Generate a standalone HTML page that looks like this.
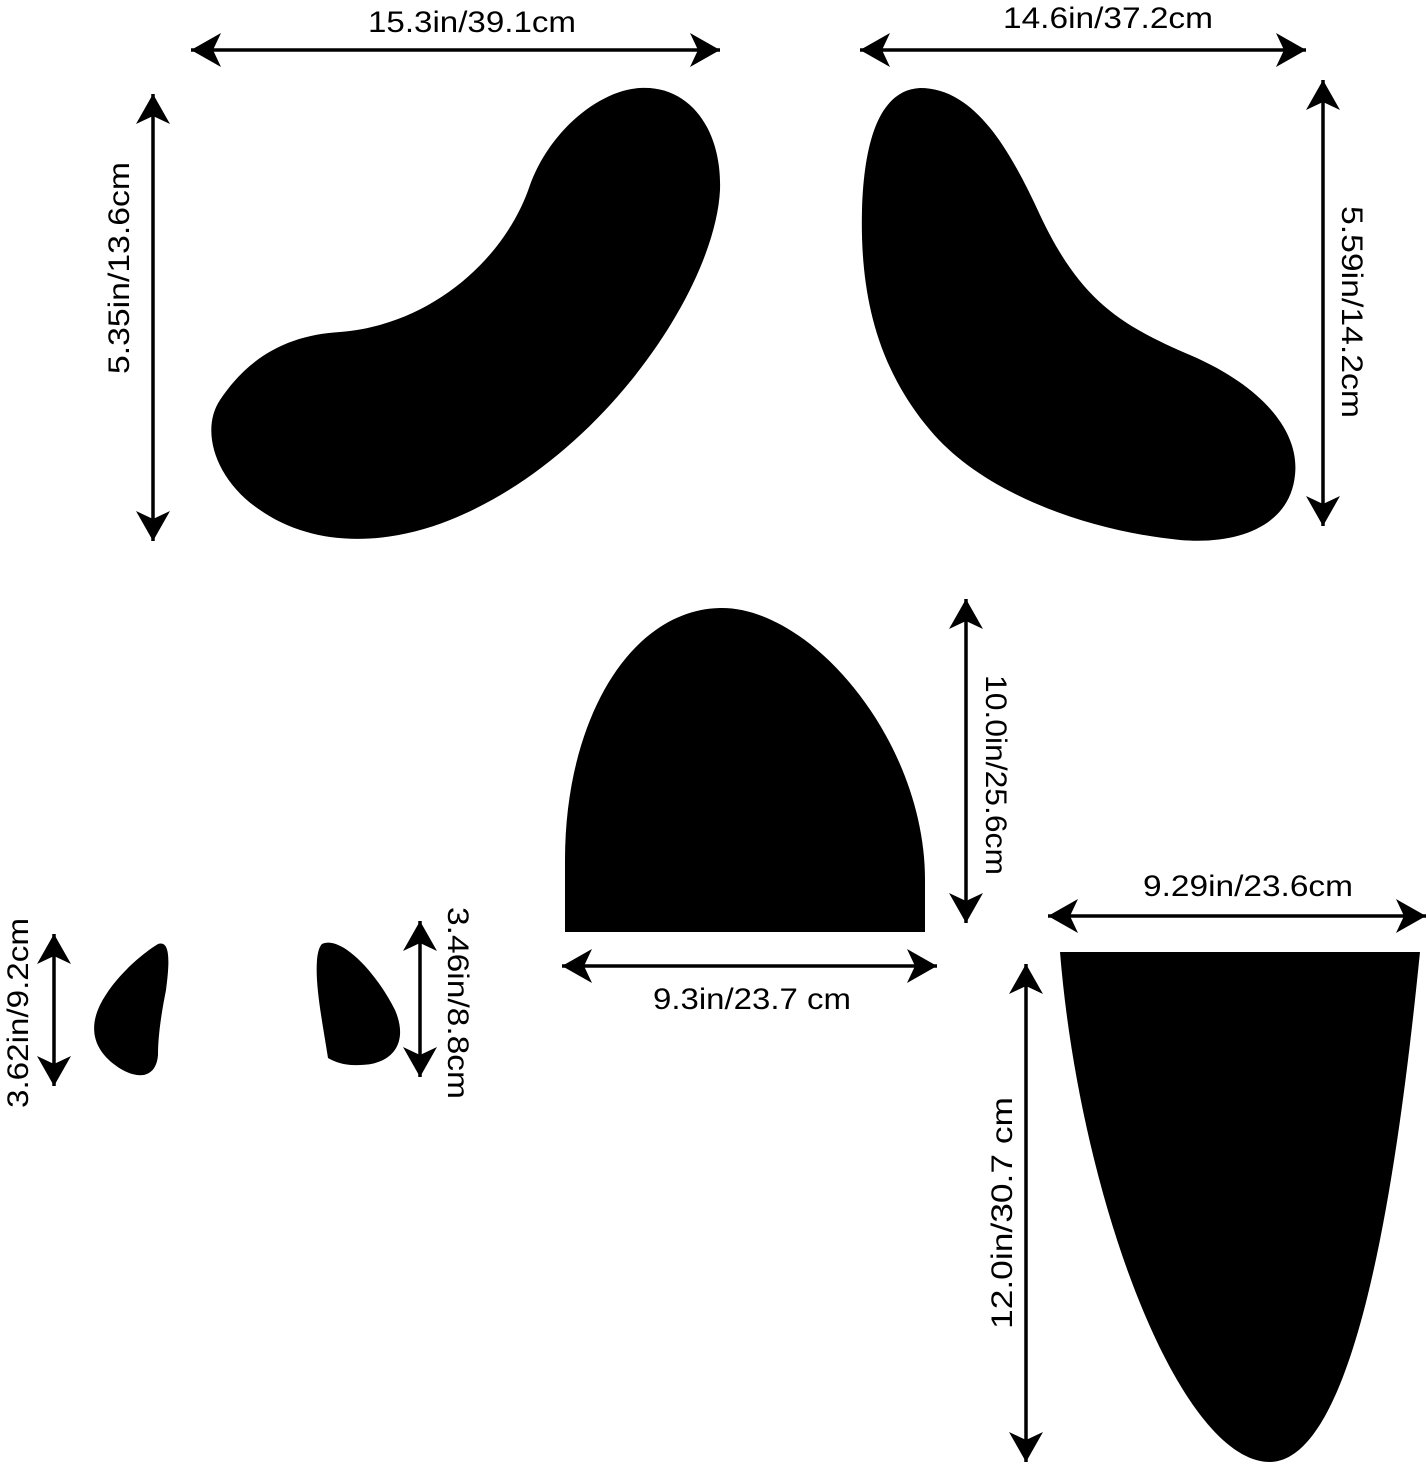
<!DOCTYPE html>
<html><head><meta charset="utf-8"><style>
html,body{margin:0;padding:0;background:#fff;}
svg{display:block;}
text{font-family:"Liberation Sans",sans-serif;font-size:30px;fill:#000;}
</style></head><body>
<svg width="1428" height="1467" viewBox="0 0 1428 1467" xmlns="http://www.w3.org/2000/svg">
<defs>
<marker id="a" viewBox="0 0 32 34" refX="31" refY="17" markerWidth="32" markerHeight="34" markerUnits="userSpaceOnUse" orient="auto-start-reverse">
<path d="M31,17 L1,0 L9,17 L1,34 Z" fill="#000"/>
</marker>
</defs>
<g fill="#000">
<path d="M640 88 C690 85 722 130 720 190 C715 290 600 460 450 520 C380 548 310 545 260 510 C215 480 200 430 220 400 C250 355 290 335 340 332 C430 325 505 260 530 185 C550 130 600 90 640 88 Z"/>
<path d="M920 88 C975 88 1010 150 1040 215 C1080 300 1120 325 1190 355 C1260 385 1300 430 1295 475 C1290 525 1240 545 1180 540 C1080 530 980 490 930 430 C875 365 860 290 862 210 C864 140 880 90 920 88 Z"/>
<path d="M565 932 L565 860 C565 720 630 610 720 608 C810 606 925 740 925 880 L925 932 Z"/>
<path d="M1060 952 L1420 952 C1400 1150 1360 1460 1270 1462 C1180 1462 1080 1200 1060 952 Z"/>
<path d="M158 944 C170 940 170 960 166 990 C160 1020 158 1040 158 1055 C156 1080 135 1080 115 1065 C95 1050 88 1030 100 1005 C115 975 145 952 158 944 Z"/>
<path d="M322 944 C340 935 375 970 395 1010 C410 1045 390 1065 360 1065 C345 1066 335 1062 328 1058 C322 1020 315 985 317 960 C318 950 320 946 322 944 Z"/>
</g>
<g stroke="#000" stroke-width="3.5" marker-start="url(#a)" marker-end="url(#a)">
<line x1="191" y1="50" x2="720" y2="50"/>
<line x1="860" y1="50" x2="1306" y2="50"/>
<line x1="153" y1="94" x2="153" y2="541"/>
<line x1="1323" y1="80" x2="1323" y2="526"/>
<line x1="966" y1="599" x2="966" y2="923"/>
<line x1="562" y1="966" x2="937" y2="966"/>
<line x1="1048" y1="916" x2="1426" y2="916"/>
<line x1="1026" y1="964" x2="1026" y2="1462"/>
<line x1="54" y1="934" x2="54" y2="1086"/>
<line x1="420" y1="921" x2="420" y2="1077"/>
</g>
<g text-anchor="middle">
<text x="472" y="32" textLength="208" lengthAdjust="spacingAndGlyphs">15.3in/39.1cm</text>
<text x="1108" y="28" textLength="210" lengthAdjust="spacingAndGlyphs">14.6in/37.2cm</text>
<text x="752" y="1009" textLength="198" lengthAdjust="spacingAndGlyphs">9.3in/23.7 cm</text>
<text x="1248" y="896" textLength="210" lengthAdjust="spacingAndGlyphs">9.29in/23.6cm</text>
<text transform="translate(129,268) rotate(-90)" textLength="212" lengthAdjust="spacingAndGlyphs">5.35in/13.6cm</text>
<text transform="translate(1342,312) rotate(90)" textLength="212" lengthAdjust="spacingAndGlyphs">5.59in/14.2cm</text>
<text transform="translate(986,775) rotate(90)" textLength="200" lengthAdjust="spacingAndGlyphs">10.0in/25.6cm</text>
<text transform="translate(1012,1213) rotate(-90)" textLength="232" lengthAdjust="spacingAndGlyphs">12.0in/30.7 cm</text>
<text transform="translate(28,1013) rotate(-90)" textLength="190" lengthAdjust="spacingAndGlyphs">3.62in/9.2cm</text>
<text transform="translate(448,1003) rotate(90)" textLength="192" lengthAdjust="spacingAndGlyphs">3.46in/8.8cm</text>
</g>
</svg>
</body></html>
